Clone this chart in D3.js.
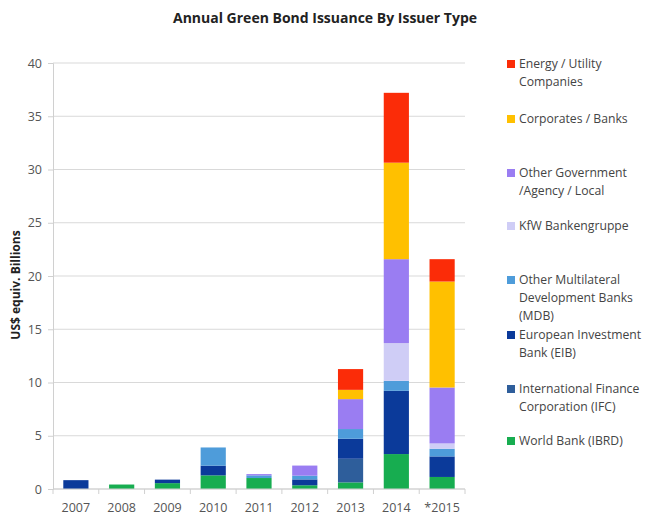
<!DOCTYPE html>
<html>
<head>
<meta charset="utf-8">
<script src="https://cdn.jsdelivr.net/npm/d3@7"></script>
<style>
  body { margin: 0; background: #fff; }
  svg { font-family: "Open Sans", sans-serif; }
</style>
</head>
<body>
<div id="chart"></div>
<script>
// values (US$ bn)
const years = ["2007", "2008", "2009", "2010", "2011", "2012", "2013", "2014", "*2015"];
const worldBank  = [0, 0.42, 0.55, 1.28, 1.03, 0.35, 0.62, 3.28, 1.13];
const ifc        = [0, 0, 0, 0, 0, 0, 2.22, 0, 0];
const eib        = [0.83, 0, 0.33, 0.91, 0, 0.55, 1.88, 5.94, 1.93];
const mdb        = [0, 0, 0, 1.71, 0.25, 0.35, 0.91, 0.94, 0.72];
const kfw        = [0, 0, 0, 0, 0, 0, 0, 3.54, 0.5];
const otherGov   = [0, 0, 0, 0, 0.12, 0.95, 2.81, 7.88, 5.25];
const corporates = [0, 0, 0, 0, 0, 0, 0.87, 9.06, 9.95];
const energy     = [0, 0, 0, 0, 0, 0, 1.95, 6.56, 2.1];
const yTicks = [0, 5, 10, 15, 20, 25, 30, 35, 40];

// stack order bottom -> top
const series = [
  {key: "wb", name: ["World Bank (IBRD)"], vals: worldBank, color: "#17ad50"},
  {key: "ifc", name: [" International Finance", "Corporation (IFC)"], vals: ifc, color: "#2e5e9b"},
  {key: "eib", name: ["European Investment", "Bank (EIB)"], vals: eib, color: "#0b3a9a"},
  {key: "mdb", name: ["Other Multilateral", "Development Banks", "(MDB)"], vals: mdb, color: "#4e9cda"},
  {key: "kfw", name: ["KfW Bankengruppe"], vals: kfw, color: "#cfcdf6"},
  {key: "gov", name: ["Other Government", "/Agency / Local"], vals: otherGov, color: "#9a7df2"},
  {key: "corp", name: ["Corporates / Banks"], vals: corporates, color: "#ffc000"},
  {key: "energy", name: ["Energy / Utility", "Companies"], vals: energy, color: "#fb2c08"}
];

const W = 651, H = 516;
const margin = {top: 63, right: 186, bottom: 27, left: 53};
const iw = W - margin.left - margin.right;
const ih = H - margin.top - margin.bottom;

const svg = d3.select("#chart").append("svg")
  .attr("width", W).attr("height", H);

// title
svg.append("text")
  .attr("x", 325).attr("y", 23)
  .attr("text-anchor", "middle")
  .attr("font-size", "14px")
  .attr("font-weight", "bold")
  .attr("fill", "#222")
  .text("Annual Green Bond Issuance By Issuer Type");

const g = svg.append("g").attr("transform", `translate(${margin.left},${margin.top})`);

const x = d3.scaleBand().domain(years).range([0, iw]).paddingInner(0.45).paddingOuter(0.225);
const y = d3.scaleLinear().domain([0, 40]).range([ih, 0]);

// gridlines
g.selectAll("line.grid").data(yTicks).enter().append("line")
  .attr("class", "grid")
  .attr("x1", 0).attr("x2", iw)
  .attr("y1", d => y(d)).attr("y2", d => y(d))
  .attr("stroke", "#d9d9d9").attr("stroke-width", 1);

// y axis
const yAxis = g.append("g").call(d3.axisLeft(y).tickValues(yTicks).tickSize(5).tickPadding(6));
yAxis.select(".domain").attr("stroke", "#d0d0d0");
yAxis.selectAll(".tick line").attr("stroke", "#d0d0d0");
yAxis.selectAll("text").attr("font-size", "12.5px").attr("fill", "#555").attr("font-family", "Open Sans, sans-serif");

// x axis with ticks at band boundaries
const xg = g.append("g").attr("transform", `translate(0,${ih})`);
const step = x.step();
xg.selectAll("line.xt").data(d3.range(years.length + 1)).enter().append("line")
  .attr("x1", i => i * step).attr("x2", i => i * step)
  .attr("y1", 0).attr("y2", 5)
  .attr("stroke", "#d0d0d0");
xg.selectAll("text").data(years).enter().append("text")
  .attr("x", d => x(d) + x.bandwidth() / 2)
  .attr("y", 23)
  .attr("text-anchor", "middle")
  .attr("font-size", "12.5px")
  .attr("fill", "#555")
  .text(d => d);

// y label
svg.append("text")
  .attr("transform", "translate(20,285) rotate(-90)")
  .attr("text-anchor", "middle")
  .attr("font-size", "12px")
  .attr("font-weight", "bold")
  .attr("fill", "#222")
  .text("US$ equiv. Billions");

// stacked bars
const table = years.map((yr, i) => {
  const row = {year: yr};
  series.forEach(s => row[s.key] = s.vals[i]);
  return row;
});
const stacked = d3.stack().keys(series.map(s => s.key))(table);

g.selectAll("g.layer").data(stacked).enter().append("g")
  .attr("class", "layer")
  .attr("fill", (d, i) => series[i].color)
  .selectAll("rect").data(d => d).enter().append("rect")
  .attr("x", d => x(d.data.year))
  .attr("width", x.bandwidth())
  .attr("y", d => y(d[1]))
  .attr("height", d => y(d[0]) - y(d[1]));

// re-draw baseline on top
g.append("line").attr("x1", 0).attr("x2", iw).attr("y1", ih).attr("y2", ih).attr("stroke", "#d0d0d0");

// legend (top entry first)
const legendY = [64, 119, 173, 226, 280, 335, 389, 441];
const legend = svg.append("g").attr("transform", "translate(507,0)");
series.slice().reverse().forEach((s, i) => {
  const item = legend.append("g").attr("transform", `translate(0,${legendY[i]})`);
  item.append("rect").attr("x", 0).attr("y", -4).attr("width", 8).attr("height", 8).attr("fill", s.color);
  s.name.forEach((line, j) => {
    item.append("text")
      .attr("x", 12).attr("y", j * 18 + 4)
      .attr("font-size", "12.2px")
      .attr("fill", "#444")
      .text(line);
  });
});
</script>
</body>
</html>
